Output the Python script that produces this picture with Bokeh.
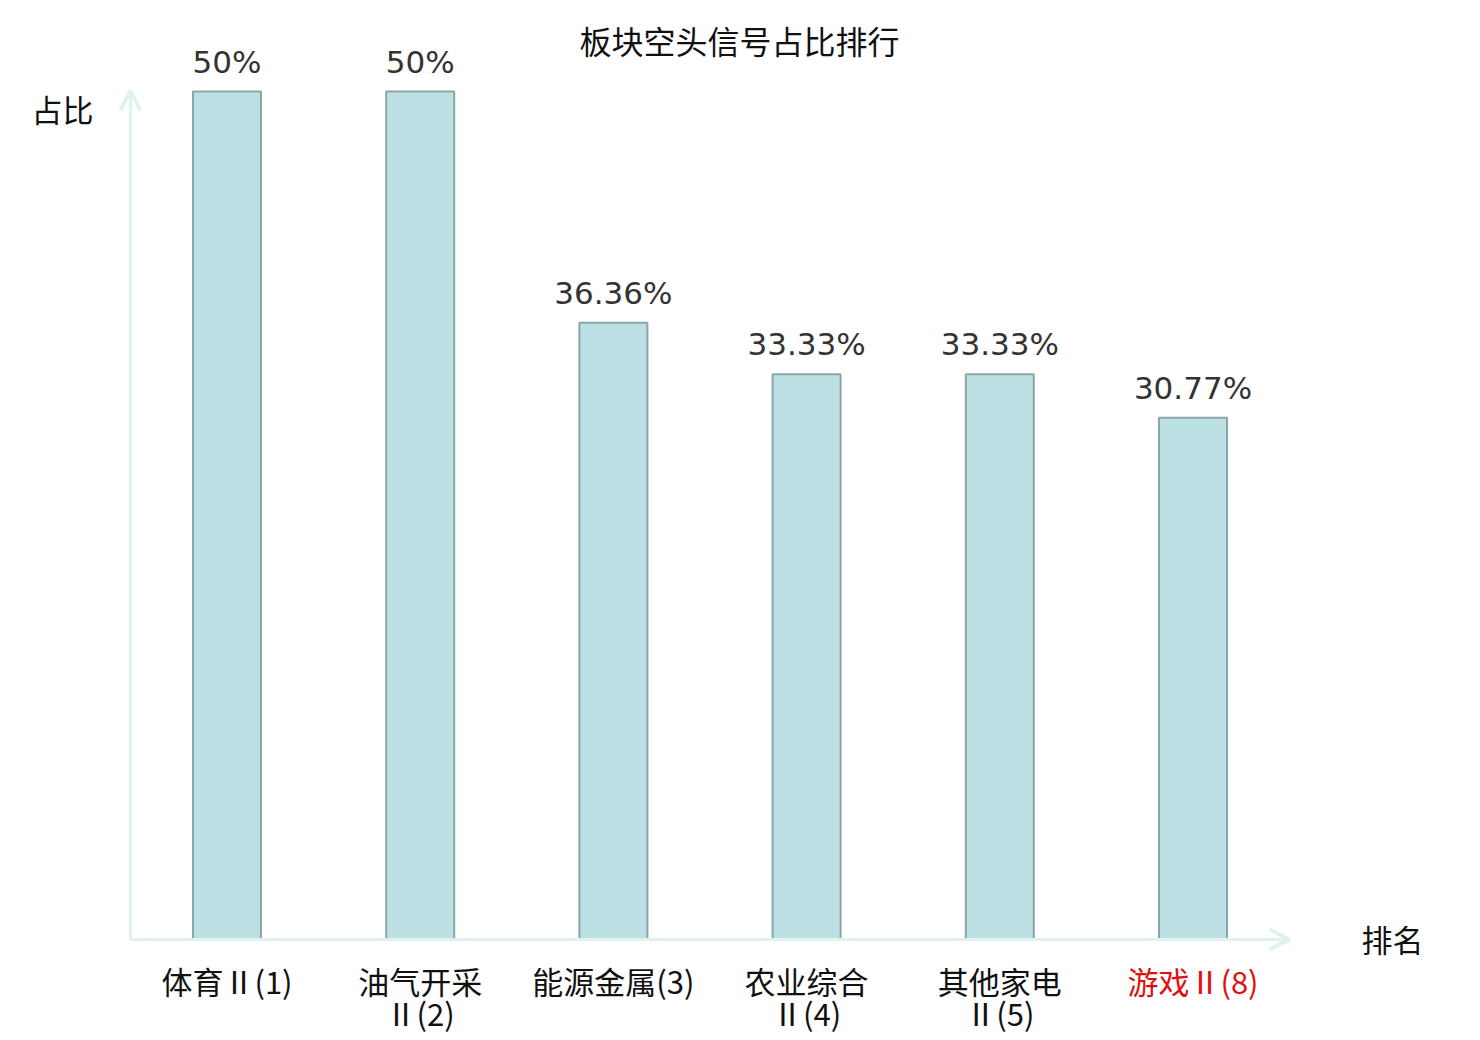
from bokeh.plotting import figure
from bokeh.models import ColumnDataSource, Range1d, Arrow, OpenHead, Label
from bokeh.core.properties import value
from bokeh.embed import file_html
from bokeh.resources import INLINE

# ---- data ----
categories = ["体育Ⅱ(1)", "油气开采\nⅡ(2)", "能源金属(3)", "农业综合\nⅡ(4)", "其他家电\nⅡ(5)", "游戏Ⅱ(8)"]
shares = [50.0, 50.0, 36.36, 33.33, 33.33, 30.77]
share_labels = ["50%", "50%", "36.36%", "33.33%", "33.33%", "30.77%"]
label_colors = ["#111111", "#111111", "#111111", "#111111", "#111111", "#E01010"]
title_text = "板块空头信号占比排行"
y_axis_name = "占比"
x_axis_name = "排名"

W, H = 1464, 1040
x_unit = 193.2          # px per category
y_unit = 16.96          # px per percent
x0_px = 226.5           # canvas px of first category centre
y0_px = H - 939         # canvas px (from bottom) of zero

idx = list(range(len(categories)))
line1 = [c.split("\n")[0] for c in categories]
line2 = [c.split("\n")[1] if "\n" in c else "" for c in categories]

src = ColumnDataSource(dict(x=idx, top=shares, lab=share_labels, l1=line1, l2=line2,
                            col=label_colors, zero=[0] * len(idx)))

p = figure(width=W, height=H, output_backend="svg", toolbar_location=None,
           x_range=Range1d(-x0_px / x_unit, -x0_px / x_unit + W / x_unit),
           y_range=Range1d(-y0_px / y_unit, -y0_px / y_unit + H / y_unit),
           min_border=0)
p.axis.visible = False
p.grid.visible = False
p.outline_line_color = None
p.background_fill_color = "white"
p.border_fill_color = "white"

axis_col = "#DFF2EF"
p.add_layout(Arrow(end=OpenHead(size=20, line_color=axis_col, line_width=4),
                   x_start=-0.5, y_start=0, x_end=-0.5, y_end=50.05,
                   line_color=axis_col, line_width=3))
p.add_layout(Arrow(end=OpenHead(size=20, line_color=axis_col, line_width=4),
                   x_start=-0.5, y_start=0, x_end=5.5, y_end=0,
                   line_color=axis_col, line_width=3))

p.vbar(x="x", top="top", bottom=0, width=0.352, source=src,
       fill_color="#BCE0E3", line_color="#89A6A8", line_width=2)

p.text(x="x", y="top", text="lab", source=src, text_align="center",
       text_baseline="alphabetic", y_offset=-30, text_font=value("DejaVu Sans"),
       text_font_size="31px", text_color="#333333")

p.text(x="x", y="zero", text="l1", source=src, text_align="center",
       text_baseline="middle", y_offset=41, text_font=value("Noto Sans CJK SC"),
       text_font_size="31px", text_color="col")
p.text(x="x", y="zero", text="l2", source=src, text_align="center",
       text_baseline="middle", y_offset=73, text_font=value("Noto Sans CJK SC"),
       text_font_size="31px", text_color="col")

p.add_layout(Label(x=739, y=H - 39, x_units="screen", y_units="screen", text=title_text,
                   text_align="center", text_baseline="middle", text_font="Noto Sans CJK SC",
                   text_font_size="32px", text_color="#111111"))
p.add_layout(Label(x=62, y=H - 108, x_units="screen", y_units="screen", text=y_axis_name,
                   text_align="center", text_baseline="middle", text_font="Noto Sans CJK SC",
                   text_font_size="31px", text_color="#111111"))
p.add_layout(Label(x=1392, y=H - 938, x_units="screen", y_units="screen", text=x_axis_name,
                   text_align="center", text_baseline="middle", text_font="Noto Sans CJK SC",
                   text_font_size="31px", text_color="#111111"))

open("out.html", "w").write(file_html(p, INLINE))
